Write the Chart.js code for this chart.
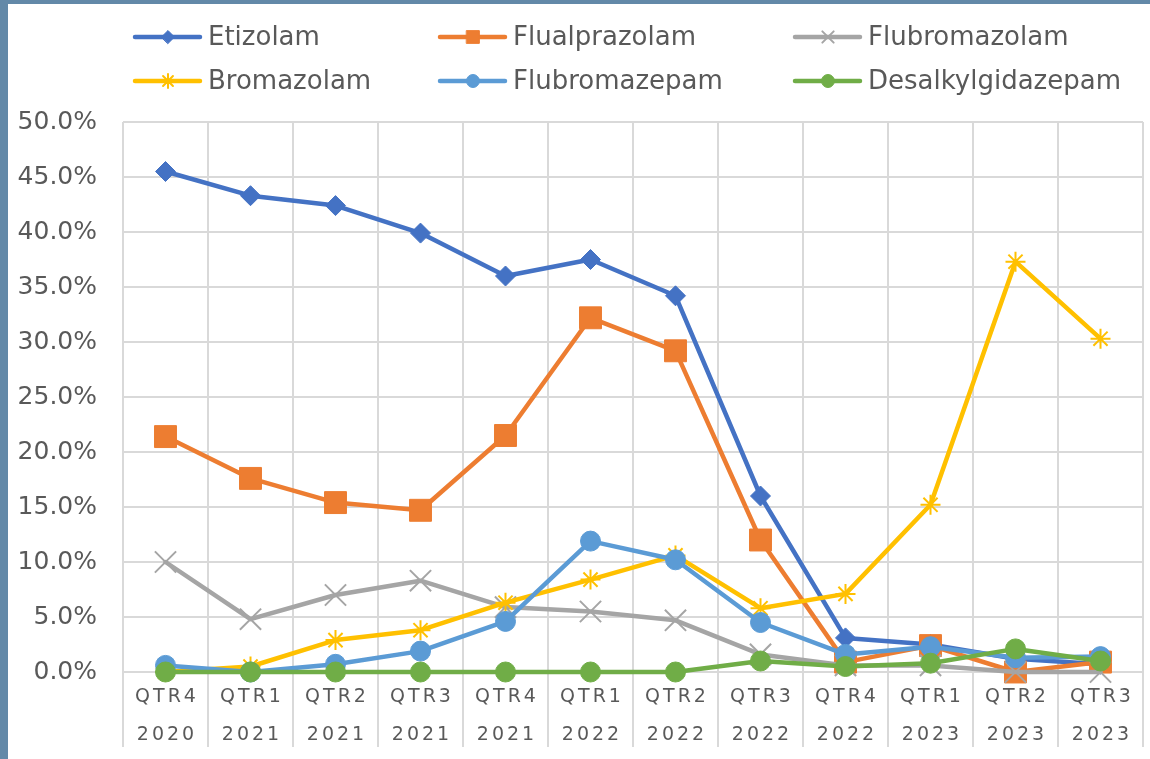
<!DOCTYPE html>
<html>

<head>
    <title>Benzodiazepine share by quarter</title>
    <script src="https://cdn.jsdelivr.net/npm/chart.js"></script>
    <style>
        body {
            margin: 0;
            background-color: #6389a8;
        }

        .card {
            position: absolute;
            left: 8px;
            top: 4px;
            width: 1142px;
            height: 755px;
            background: white;
        }
    </style>
</head>

<body>
    <div class="card">
        <canvas id="drugChart" width="1142" height="755"></canvas>
    </div>

    <script>
        const quarters = [
            ['QTR4', '2020'], ['QTR1', '2021'], ['QTR2', '2021'], ['QTR3', '2021'],
            ['QTR4', '2021'], ['QTR1', '2022'], ['QTR2', '2022'], ['QTR3', '2022'],
            ['QTR4', '2022'], ['QTR1', '2023'], ['QTR2', '2023'], ['QTR3', '2023']
        ];

        const etizolam = [45.5, 43.3, 42.4, 39.9, 36.0, 37.5, 34.2, 16.0, 3.1, 2.5, 1.2, 0.7];
        const flualprazolam = [21.4, 17.6, 15.4, 14.7, 21.5, 32.2, 29.2, 12.0, 0.9, 2.4, 0.0, 0.9];
        const flubromazolam = [10.0, 4.8, 7.0, 8.3, 5.9, 5.5, 4.7, 1.6, 0.6, 0.6, 0.0, 0.0];
        const bromazolam = [0.0, 0.5, 2.9, 3.8, 6.3, 8.4, 10.6, 5.8, 7.1, 15.2, 37.3, 30.3];
        const flubromazepam = [0.6, 0.0, 0.7, 1.9, 4.6, 11.9, 10.2, 4.5, 1.6, 2.3, 1.3, 1.4];
        const desalkylgidazepam = [0.0, 0.0, 0.0, 0.0, 0.0, 0.0, 0.0, 1.0, 0.5, 0.8, 2.1, 1.0];

        const yTicks = [0, 5, 10, 15, 20, 25, 30, 35, 40, 45, 50];

        const textColor = '#595959';
        const gridColor = '#d9d9d9';
        const fontFamily = "'DejaVu Sans', sans-serif";
        const labelSpacing = 3;

        // excel style category labels are letter spaced
        class SpacedCategoryScale extends Chart.CategoryScale {
            drawLabels(chartArea) {
                this.ctx.save();
                this.ctx.letterSpacing = labelSpacing + 'px';
                this.ctx.translate(labelSpacing / 2, 0);
                super.drawLabels(chartArea);
                this.ctx.restore();
            }
        }
        SpacedCategoryScale.id = 'spacedCategory';
        SpacedCategoryScale.defaults = Chart.CategoryScale.defaults;
        Chart.register(SpacedCategoryScale);

        function series(label, data, color, style, radius, legendRadius, order) {
            const lineMarker = style === 'crossRot' || style === 'star';
            return {
                label: label,
                data: data,
                borderColor: color,
                backgroundColor: color,
                borderWidth: 4.5,
                borderCapStyle: 'round',
                borderJoinStyle: 'round',
                pointStyle: style,
                pointRadius: radius,
                pointHoverRadius: radius,
                pointBackgroundColor: color,
                pointBorderColor: color,
                pointBorderWidth: lineMarker ? 2 : 1,
                legendRadius: legendRadius,
                order: order,
                clip: false,
                tension: 0
            };
        }

        // legend in three aligned columns, like the original
        const gridLegend = {
            id: 'gridLegend',
            afterDraw(chart) {
                const ctx = chart.ctx;
                const left = chart.chartArea.left;
                const colX = [left + 10, left + 315, left + 670];
                const rowY = [33, 77];
                chart.data.datasets.forEach((ds, i) => {
                    const x = colX[i % 3];
                    const y = rowY[Math.floor(i / 3)];
                    ctx.save();
                    ctx.strokeStyle = ds.borderColor;
                    ctx.lineWidth = 4.5;
                    ctx.lineCap = 'round';
                    ctx.beginPath();
                    ctx.moveTo(x + 2, y);
                    ctx.lineTo(x + 67, y);
                    ctx.stroke();
                    ctx.fillStyle = ds.pointBackgroundColor;
                    ctx.strokeStyle = ds.pointBorderColor;
                    ctx.lineWidth = ds.pointBorderWidth;
                    Chart.helpers.drawPoint(ctx, {
                        pointStyle: ds.pointStyle,
                        radius: ds.legendRadius,
                        rotation: 0,
                        borderWidth: ds.pointBorderWidth
                    }, x + 35, y);
                    ctx.fillStyle = textColor;
                    ctx.font = '26px ' + fontFamily;
                    ctx.textBaseline = 'middle';
                    ctx.textAlign = 'left';
                    ctx.fillText(ds.label, x + 75, y + 1);
                    ctx.restore();
                });
            }
        };

        const ctx = document.getElementById('drugChart').getContext('2d');
        const drugChart = new Chart(ctx, {
            type: 'line',
            data: {
                labels: quarters,
                datasets: [
                    series('Etizolam', etizolam, '#4472c4', 'rectRot', 10, 6.5, 6),
                    series('Flualprazolam', flualprazolam, '#ed7d31', 'rect', 15.5, 9, 5),
                    series('Flubromazolam', flubromazolam, '#a5a5a5', 'crossRot', 15, 8, 4),
                    series('Bromazolam', bromazolam, '#ffc000', 'star', 10, 7, 3),
                    series('Flubromazepam', flubromazepam, '#5b9bd5', 'circle', 10, 6.5, 2),
                    series('Desalkylgidazepam', desalkylgidazepam, '#70ad47', 'circle', 10, 6.5, 1)
                ]
            },
            options: {
                responsive: false,
                animation: false,
                layout: {
                    autoPadding: false,
                    padding: { top: 118, right: 7, bottom: 0, left: 0 }
                },
                plugins: {
                    legend: { display: false },
                    tooltip: { enabled: false }
                },
                scales: {
                    x: {
                        type: 'spacedCategory',
                        offset: true,
                        grid: {
                            offset: true,
                            color: gridColor,
                            lineWidth: 2,
                            drawTicks: true,
                            tickLength: 75
                        },
                        border: { display: false },
                        ticks: {
                            color: textColor,
                            padding: -69,
                            maxRotation: 0,
                            autoSkip: false,
                            font: { family: fontFamily, size: 19, lineHeight: '38px' }
                        },
                        afterFit(scale) {
                            scale.height = 87;
                            scale.paddingLeft = 0;
                            scale.paddingRight = 0;
                        }
                    },
                    y: {
                        min: 0,
                        max: 50,
                        afterBuildTicks(scale) {
                            scale.ticks = yTicks.map(v => ({ value: v }));
                        },
                        grid: {
                            color: gridColor,
                            lineWidth: 2,
                            drawTicks: false
                        },
                        border: { display: false },
                        ticks: {
                            color: textColor,
                            padding: 26,
                            font: { family: fontFamily, size: 25 },
                            callback: v => v.toFixed(1) + '%'
                        },
                        afterFit(scale) { scale.width = 115; }
                    }
                }
            },
            plugins: [gridLegend]
        });
    </script>
</body>

</html>
